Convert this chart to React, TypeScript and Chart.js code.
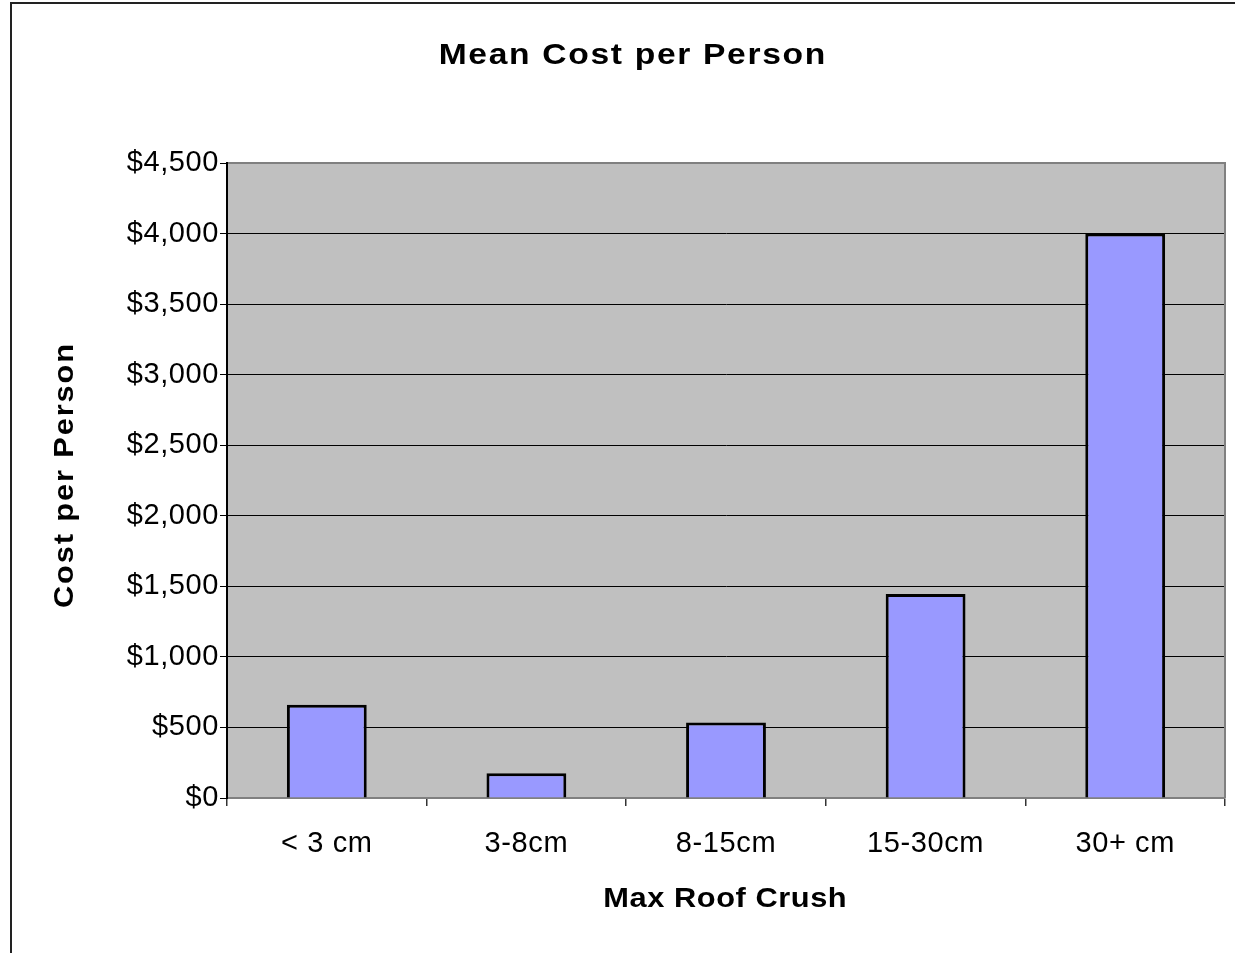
import React, { useEffect, useRef } from "react";
import { Chart, registerables } from "chart.js";

Chart.register(...registerables);

const categories = ["< 3 cm", "3-8cm", "8-15cm", "15-30cm", "30+ cm"];
const meanCost = [660, 175, 535, 1445, 4000];
const chartTitle = "Mean Cost per Person";
const xTitle = "Max Roof Crush";
const yTitle = "Cost per Person";
const yMin = 0;
const yMax = 4500;
const yStep = 500;

const FONT = "'Liberation Sans', Arial, sans-serif";

function drawStretched(ctx: any, text: string, cx: number, baseline: number, font: string, spacing: number, sx: number) {
  ctx.save();
  ctx.font = font;
  ctx.letterSpacing = spacing + "px";
  ctx.textAlign = "left";
  ctx.textBaseline = "alphabetic";
  const w = ctx.measureText(text).width - spacing;
  ctx.translate(cx, baseline);
  ctx.scale(sx, 1);
  ctx.fillText(text, -w / 2, 0);
  ctx.restore();
}

const decorPlugin = {
  id: "decor",
  beforeDraw(chart: any) {
    const { ctx, chartArea } = chart;
    ctx.save();
    ctx.fillStyle = "#ffffff";
    ctx.fillRect(0, 0, chart.width, chart.height);
    ctx.fillStyle = "#C0C0C0";
    ctx.fillRect(chartArea.left, chartArea.top, chartArea.right - chartArea.left, chartArea.bottom - chartArea.top);
    ctx.restore();
    ctx.letterSpacing = "0.6px";
  },
  afterDraw(chart: any) {
    const { ctx, chartArea } = chart;
    ctx.save();
    ctx.strokeStyle = "#808080";
    ctx.lineWidth = 2;
    ctx.beginPath();
    ctx.moveTo(chartArea.left, chartArea.top);
    ctx.lineTo(chartArea.right, chartArea.top);
    ctx.lineTo(chartArea.right, chartArea.bottom);
    ctx.stroke();
    ctx.strokeStyle = "#000";
    ctx.lineWidth = 2;
    ctx.beginPath();
    ctx.moveTo(chartArea.left, chartArea.top - 1);
    ctx.lineTo(chartArea.left, chartArea.bottom);
    ctx.stroke();
    ctx.strokeStyle = "#222";
    ctx.lineWidth = 2;
    ctx.beginPath();
    ctx.moveTo(11, chart.height);
    ctx.lineTo(11, 3);
    ctx.lineTo(chart.width, 3);
    ctx.stroke();

    ctx.fillStyle = "#000";
    drawStretched(ctx, chartTitle, 632, 64, `bold 30px ${FONT}`, 1.5, 1.12);
    drawStretched(ctx, xTitle, 725, 907, `bold 28px ${FONT}`, 0.5, 1.1);
    ctx.save();
    ctx.translate(73, 476);
    ctx.rotate(-Math.PI / 2);
    drawStretched(ctx, yTitle, 0, 0, `bold 28px ${FONT}`, 1.7, 1.1);
    ctx.restore();
    ctx.restore();
  },
};

export default function App() {
  const canvasRef = useRef<HTMLCanvasElement | null>(null);

  useEffect(() => {
    if (!canvasRef.current) return;
    const chart = new Chart(canvasRef.current, {
      type: "bar",
      data: {
        labels: categories,
        datasets: [
          {
            label: chartTitle,
            data: meanCost,
            backgroundColor: "#9999FF",
            borderColor: "#000000",
            borderWidth: 3,
            barPercentage: 0.4,
            categoryPercentage: 1,
          },
        ],
      },
      options: {
        animation: false,
        responsive: false,
        devicePixelRatio: 1,
        layout: { padding: { top: 163, right: 10, left: 0, bottom: 0 } },
        plugins: {
          legend: { display: false },
          title: { display: false },
          tooltip: { enabled: false },
        },
        scales: {
          x: {
            type: "category",
            grid: {
              offset: true,
              drawOnChartArea: false,
              drawTicks: true,
              tickLength: 8,
              tickColor: "#333",
              lineWidth: 1.5,
            },
            border: { display: true, color: "#808080", width: 2 },
            ticks: {
              color: "#000",
              font: { family: FONT, size: 29 },
              padding: 21,
              maxRotation: 0,
              autoSkip: false,
            },
            afterFit(scale: any) {
              scale.height = 155;
            },
          },
          y: {
            min: yMin,
            max: yMax,
            grid: {
              color: (c: any) => (c.tick && c.tick.value === yMax ? "#808080" : "#000000"),
              lineWidth: 1,
              tickLength: 7,
              tickColor: "#000",
            },
            border: { display: true, color: "#000", width: 2 },
            ticks: {
              stepSize: yStep,
              color: "#000",
              font: { family: FONT, size: 29 },
              padding: 1,
              callback: (v: any) => "$" + Number(v).toLocaleString("en-US"),
            },
            afterFit(scale: any) {
              scale.width = 227;
            },
          },
        },
      },
      plugins: [decorPlugin],
    });
    return () => chart.destroy();
  }, []);

  return (
    <div style={{ position: "absolute", left: 0, top: 0, width: 1235, height: 953, background: "#fff" }}>
      <canvas ref={canvasRef} width={1235} height={953} style={{ display: "block", width: 1235, height: 953 }} />
    </div>
  );
}
